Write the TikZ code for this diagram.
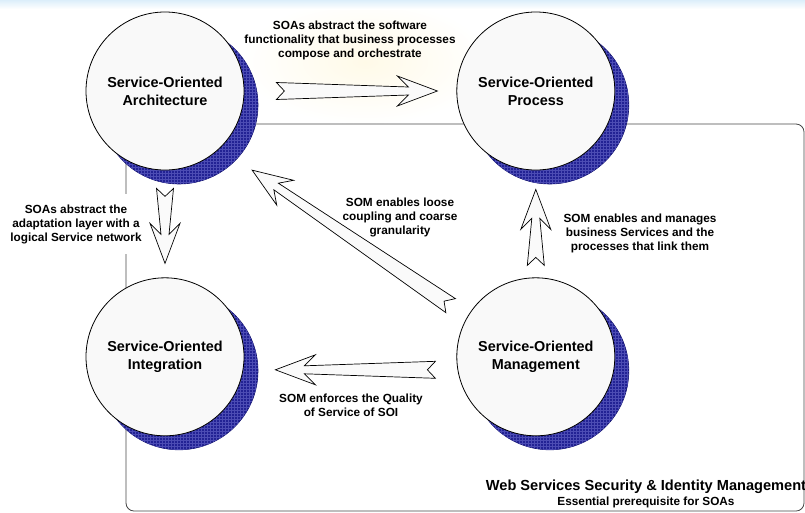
\documentclass[tikz,border=0pt]{standalone}
\usepackage{fontspec}
\setmainfont{Liberation Sans}
\usetikzlibrary{positioning}
\usetikzlibrary{calc}
\usetikzlibrary{shadows}
\usetikzlibrary{patterns}

\definecolor{shadowblue}{RGB}{34,34,148}
\definecolor{shadowedge}{RGB}{20,20,110}
\definecolor{gridblue}{RGB}{76,76,180}
\definecolor{bubblefill}{RGB}{249,249,249}
\definecolor{arrowfill}{RGB}{250,250,250}
\definecolor{framegray}{RGB}{70,70,70}
\definecolor{topblue}{RGB}{220,238,250}
\definecolor{glowyellow}{RGB}{255,250,232}

% notched block arrow from #1 (tail) to #2 (tip)
\newcommand{\bigarrow}[2]{%
  \draw [fatarrow]
    ($(#1)!8.5pt!90:(#2)$) -- ($(#2)!29pt!(#1)!4pt!-90:(#1)$)
    -- ($(#2)!40pt!(#1)!15pt!-90:(#1)$) -- (#2)
    -- ($(#2)!40pt!(#1)!15pt!90:(#1)$) -- ($(#2)!29pt!(#1)!4pt!90:(#1)$)
    -- ($(#1)!8.5pt!-90:(#2)$) -- ($(#1)!8pt!(#2)$) -- cycle;
}

\begin{document}
\begin{tikzpicture}[
  x=1pt, y=-1pt,
  bubble/.style={circle, draw=black, line width=0.8pt, fill=bubblefill,
    minimum size=158pt, inner sep=0pt, align=center,
    font=\fontsize{14.4}{18}\selectfont\bfseries,
    general shadow={shadow xshift=14pt, shadow yshift=-14pt,
      fill=shadowblue, draw=shadowedge, line width=0.6pt,
      postaction={pattern=grid, pattern color=gridblue}}},
  note/.style={align=center, font=\fontsize{11.8}{14}\selectfont\bfseries, inner sep=1pt},
  fatarrow/.style={draw=black, line width=0.7pt, fill=arrowfill, line join=miter},
  frame/.style={draw=framegray, line width=0.8pt, rounded corners=8pt}
  ]
  \useasboundingbox (0,0) rectangle (805,512);
  \shade [inner color=glowyellow, outer color=white] (365,62) ellipse (125 and 62);
  \shade [top color=topblue, bottom color=white] (0,0) rectangle (805,9);
  \draw [frame] (126,124) rectangle (804,511);

  % the four disciplines
  \node [bubble] (soa) at (165,91) {Service-Oriented\\Architecture};
  \node [bubble, right=212pt of soa] (sop) {Service-Oriented\\Process};
  \node [bubble, below=107pt of soa] (soi) {Service-Oriented\\Integration};
  \node [bubble, below=107pt of sop] (som) {Service-Oriented\\Management};

  % arrow ends
  \coordinate (a1tail) at ($(soa.east)+(32,0)$);
  \coordinate (a1tip) at ($(sop.west)+(-19,0)$);
  \coordinate (a2tail) at ($(soa.south)+(0,18)$);
  \coordinate (a2tip) at ($(soi.north)+(0,-14)$);
  \coordinate (a3tail) at ($(som.north west)+(-29,5)$);
  \coordinate (a3tip) at ($(soa.south east)+(31,23)$);
  \coordinate (a4tail) at ($(som.north)+(0,-12)$);
  \coordinate (a4tip) at ($(sop.south)+(0,19)$);
  \coordinate (a5tail) at ($(som.west)+(-21,13)$);
  \coordinate (a5tip) at ($(soi.east)+(31,13)$);

  \bigarrow{a1tail}{a1tip}
  \bigarrow{a2tail}{a2tip}
  \bigarrow{a3tail}{a3tip}
  \bigarrow{a4tail}{a4tip}
  \bigarrow{a5tail}{a5tip}

  % labels
  \node [note] (soasop) at (350,40) {SOAs abstract the software\\functionality that business processes\\compose and orchestrate};
  \node [note, fill=white, inner ysep=10pt] (soasoi) at (76,224) {SOAs abstract the\\adaptation layer with a\\logical Service network};
  \node [note] (somsoa) at (400,217) {SOM enables loose\\coupling and coarse\\granularity};
  \node [note] (somsop) at (640,233) {SOM enables and manages\\business Services and the\\processes that link them};
  \node [note] (somsoi) at (351,405) {SOM enforces the Quality\\of Service of SOI};
  \node [note, font=\fontsize{14.6}{17}\selectfont\bfseries] (wss) at (646,487) {Web Services Security \& Identity Management};
  \node [note] (prereq) at (646,502) {Essential prerequisite for SOAs};
\end{tikzpicture}
\end{document}
